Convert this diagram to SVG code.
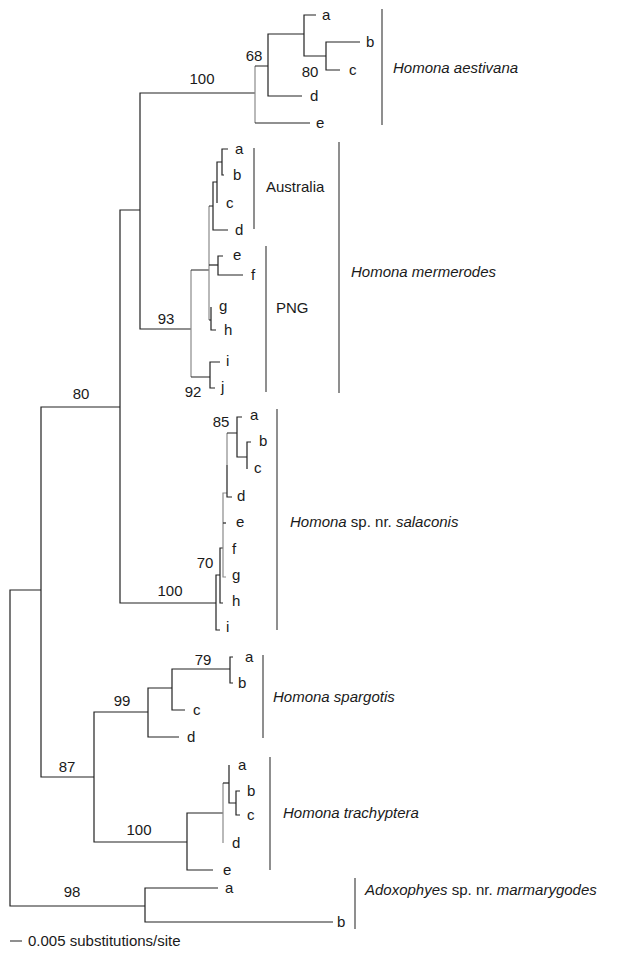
<svg xmlns="http://www.w3.org/2000/svg" width="617" height="955" viewBox="0 0 617 955">
<style>
text{font-family:"Liberation Sans",Arial,sans-serif;font-size:15px;fill:#1a1a1a}
.i{font-style:italic}
.m{text-anchor:middle}
.br path{fill:none;stroke:#222;stroke-width:1.2}
.br path.gy{stroke:#8a8a8a}
.bar{stroke:#333;stroke-width:1.1}
</style>
<rect width="617" height="955" fill="#fff"/>
<g id="connectors" class="br">
<path d="M41 590H10V906H145"/>
<path d="M120 407H41V777H94"/>
<path d="M140 210H120V603H216"/>
<path d="M255 93H140V329H191"/>
<path d="M255 66V123" class="gy"/>
<path d="M255 66H268M255 123H310"/>
<path d="M304 34H268V96H302"/>
<path d="M316 15H304V56H326"/>
<path d="M360 42H326V70H340"/>
<path d="M191 270V377" class="gy"/>
<path d="M191 270H209M191 377H210"/>
<path d="M220 362H210V388H215"/>
<path d="M209 206V320" class="gy"/>
<path d="M209 206H213M209 320H211"/>
<path d="M209 265H218"/>
<path d="M211 307V330H216"/>
<path d="M223 256H218V275H243"/>
<path d="M217 182H213V230H228"/>
<path d="M222 162H217V203"/>
<path d="M228 149H222V175H224"/>
<path d="M220 575H216V630H220"/>
<path d="M223 548H220V603H223"/>
<path d="M227 493H223V577H226" class="gy"/>
<path d="M223 523H226"/>
<path d="M227 433V465" class="gy"/>
<path d="M237 433H227M227 465V497H232"/>
<path d="M242 417H237V457H247"/>
<path d="M251 442H247V469"/>
<path d="M148 712H94V842H187"/>
<path d="M172 688H148V737H179"/>
<path d="M230 669H172V710H185"/>
<path d="M233 657H230V683H233"/>
<path d="M223 813H187V870H213"/>
<path d="M223 783V843" class="gy"/>
<path d="M223 783H229"/>
<path d="M229 765V803H236"/>
<path d="M240 791H236V815H240"/>
<path d="M218 888H145V922H333"/>
</g>
<g id="support">
<text class="m" x="202" y="84">100</text>
<text class="m" x="254" y="61">68</text>
<text class="m" x="310" y="77">80</text>
<text class="m" x="81" y="399">80</text>
<text class="m" x="166" y="324">93</text>
<text class="m" x="193" y="397">92</text>
<text class="m" x="221" y="427">85</text>
<text class="m" x="205" y="568">70</text>
<text class="m" x="170" y="596">100</text>
<text class="m" x="67" y="772">87</text>
<text class="m" x="122" y="706">99</text>
<text class="m" x="203" y="665">79</text>
<text class="m" x="139" y="835">100</text>
<text class="m" x="72" y="897">98</text>
</g>
<g id="aestivana">
<text x="322" y="20">a</text><text x="366" y="47">b</text><text x="349" y="75">c</text><text x="310" y="101">d</text><text x="316" y="128">e</text>
<line class="bar" x1="382" y1="9" x2="382" y2="125"/>
<text class="i" x="393" y="73">Homona aestivana</text>
</g>
<g id="mermerodes">
<text x="235" y="154">a</text><text x="233" y="180">b</text><text x="226" y="208">c</text><text x="235" y="235">d</text><text x="233" y="260">e</text><text x="251" y="280">f</text><text x="219" y="311">g</text><text x="224" y="335">h</text><text x="226" y="366">i</text><text x="221" y="392">j</text>
<line class="bar" x1="254" y1="148" x2="254" y2="229"/>
<text x="266" y="192">Australia</text>
<line class="bar" x1="266" y1="246" x2="266" y2="392"/>
<text x="276" y="313">PNG</text>
<line class="bar" x1="339" y1="142" x2="339" y2="393"/>
<text class="i" x="351" y="277">Homona mermerodes</text>
</g>
<g id="salaconis">
<text x="250" y="420">a</text><text x="259" y="446">b</text><text x="254" y="473">c</text><text x="237" y="501">d</text><text x="236" y="527">e</text><text x="232" y="554">f</text><text x="232" y="580">g</text><text x="232" y="606">h</text><text x="226" y="632">i</text>
<line class="bar" x1="277" y1="409" x2="277" y2="630"/>
<text x="290" y="527"><tspan class="i">Homona</tspan> sp. nr. <tspan class="i">salaconis</tspan></text>
</g>
<g id="spargotis">
<text x="245" y="662">a</text><text x="238" y="688">b</text><text x="193" y="715">c</text><text x="187" y="742">d</text>
<line class="bar" x1="263" y1="655" x2="263" y2="738"/>
<text class="i" x="273" y="702">Homona spargotis</text>
</g>
<g id="trachyptera">
<text x="238" y="770">a</text><text x="247" y="796">b</text><text x="247" y="820">c</text><text x="232" y="848">d</text><text x="223" y="875">e</text>
<line class="bar" x1="270" y1="757" x2="270" y2="870"/>
<text class="i" x="283" y="818">Homona trachyptera</text>
</g>
<g id="adoxophyes">
<text x="225" y="893">a</text><text x="337" y="927">b</text>
<line class="bar" x1="355" y1="878" x2="355" y2="929"/>
<text x="365" y="895"><tspan class="i">Adoxophyes</tspan> sp. nr. <tspan class="i">marmarygodes</tspan></text>
</g>
<g id="scale">
<line class="bar" x1="10" y1="941" x2="22" y2="941"/>
<text x="28" y="946">0.005 substitutions/site</text>
</g>
</svg>
